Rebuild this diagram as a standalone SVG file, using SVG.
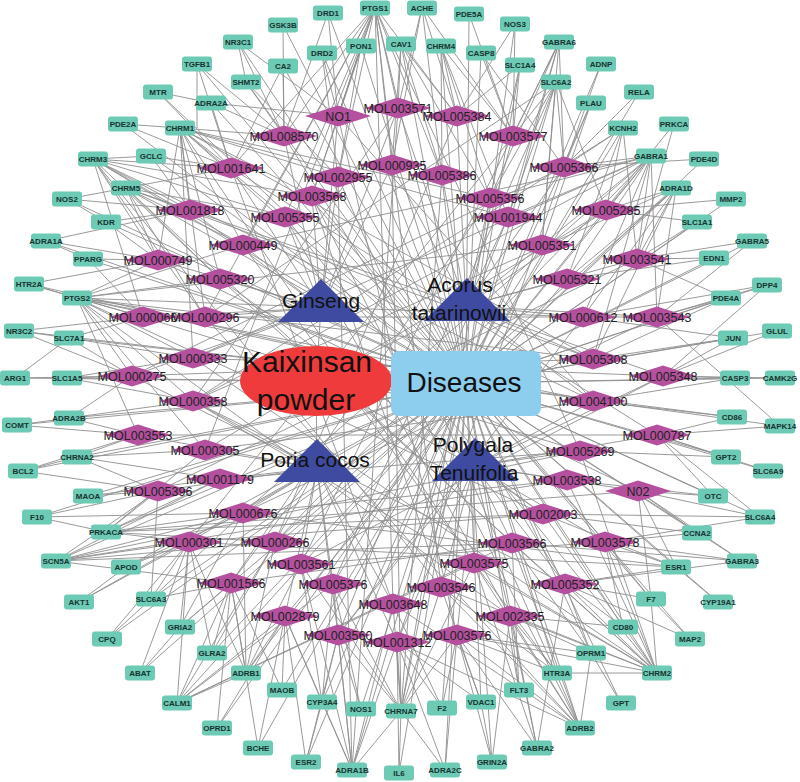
<svg xmlns="http://www.w3.org/2000/svg" xmlns:xlink="http://www.w3.org/1999/xlink" width="800" height="782" viewBox="0 0 800 782">
<style>
#edges line{stroke:#8e8e8e;stroke-width:0.9}
.t use{fill:#6DCAB4}
.t text{font:bold 8px "Liberation Sans",Arial,sans-serif;fill:#173330;text-anchor:middle}
.m use{fill:#B5509F}
.m text{font:12.5px "Liberation Sans",Arial,sans-serif;fill:#222;text-anchor:middle}
.h polygon{fill:#3E4BA0}
.h text{font:21px "Liberation Sans",Arial,sans-serif;fill:#111;text-anchor:middle}
.c text{font:30px "Liberation Sans",Arial,sans-serif;fill:#111;text-anchor:middle}
</style>
<defs>
<rect id="tb" x="-15" y="-7.5" width="30" height="15" rx="3"/>
<polygon id="dm" points="-33,0 0,-10.5 33,0 0,10.5"/>
</defs>
<rect width="800" height="782" fill="#fff"/>
<g id="edges">
<line x1="238" y1="42" x2="466" y2="383"/><line x1="197" y1="64" x2="466" y2="383"/><line x1="246" y1="82" x2="466" y2="383"/><line x1="158" y1="92" x2="466" y2="383"/><line x1="211" y1="103" x2="466" y2="383"/><line x1="123" y1="124" x2="466" y2="383"/><line x1="180" y1="128" x2="466" y2="383"/><line x1="151" y1="156" x2="466" y2="383"/><line x1="93" y1="159" x2="466" y2="383"/><line x1="126" y1="188" x2="466" y2="383"/><line x1="67" y1="199" x2="466" y2="383"/><line x1="106" y1="222" x2="466" y2="383"/><line x1="46" y1="241" x2="466" y2="383"/><line x1="88" y1="259" x2="466" y2="383"/><line x1="29" y1="284" x2="466" y2="383"/><line x1="77" y1="298" x2="466" y2="383"/><line x1="19" y1="331" x2="466" y2="383"/><line x1="69" y1="338" x2="466" y2="383"/><line x1="15" y1="378" x2="466" y2="383"/><line x1="67" y1="378" x2="466" y2="383"/><line x1="17" y1="425" x2="466" y2="383"/><line x1="69" y1="418" x2="466" y2="383"/><line x1="23" y1="471" x2="466" y2="383"/><line x1="77" y1="457" x2="466" y2="383"/><line x1="88" y1="496" x2="466" y2="383"/><line x1="37" y1="517" x2="466" y2="383"/><line x1="106" y1="532" x2="466" y2="383"/><line x1="56" y1="561" x2="466" y2="383"/><line x1="126" y1="567" x2="466" y2="383"/><line x1="79" y1="602" x2="466" y2="383"/><line x1="151" y1="599" x2="466" y2="383"/><line x1="107" y1="639" x2="466" y2="383"/><line x1="180" y1="627" x2="466" y2="383"/><line x1="212" y1="653" x2="466" y2="383"/><line x1="140" y1="673" x2="466" y2="383"/><line x1="246" y1="673" x2="466" y2="383"/><line x1="177" y1="703" x2="466" y2="383"/><line x1="217" y1="728" x2="466" y2="383"/><line x1="258" y1="748" x2="466" y2="383"/><line x1="282" y1="690" x2="466" y2="383"/><line x1="322" y1="702" x2="466" y2="383"/><line x1="306" y1="762" x2="466" y2="383"/><line x1="361" y1="709" x2="466" y2="383"/><line x1="352" y1="770" x2="466" y2="383"/><line x1="401" y1="711" x2="466" y2="383"/><line x1="399" y1="773" x2="466" y2="383"/><line x1="442" y1="708" x2="466" y2="383"/><line x1="445" y1="770" x2="466" y2="383"/><line x1="481" y1="702" x2="466" y2="383"/><line x1="492" y1="762" x2="466" y2="383"/><line x1="519" y1="690" x2="466" y2="383"/><line x1="537" y1="748" x2="466" y2="383"/><line x1="557" y1="673" x2="466" y2="383"/><line x1="580" y1="728" x2="466" y2="383"/><line x1="591" y1="653" x2="466" y2="383"/><line x1="621" y1="703" x2="466" y2="383"/><line x1="623" y1="627" x2="466" y2="383"/><line x1="657" y1="673" x2="466" y2="383"/><line x1="651" y1="599" x2="466" y2="383"/><line x1="690" y1="639" x2="466" y2="383"/><line x1="676" y1="567" x2="466" y2="383"/><line x1="718" y1="602" x2="466" y2="383"/><line x1="697" y1="533" x2="466" y2="383"/><line x1="742" y1="561" x2="466" y2="383"/><line x1="760" y1="517" x2="466" y2="383"/><line x1="713" y1="496" x2="466" y2="383"/><line x1="726" y1="457" x2="466" y2="383"/><line x1="768" y1="471" x2="466" y2="383"/><line x1="732" y1="417" x2="466" y2="383"/><line x1="780" y1="426" x2="466" y2="383"/><line x1="735" y1="378" x2="466" y2="383"/><line x1="780" y1="378" x2="466" y2="383"/><line x1="733" y1="338" x2="466" y2="383"/><line x1="777" y1="331" x2="466" y2="383"/><line x1="726" y1="298" x2="466" y2="383"/><line x1="767" y1="285" x2="466" y2="383"/><line x1="714" y1="258" x2="466" y2="383"/><line x1="752" y1="241" x2="466" y2="383"/><line x1="697" y1="222" x2="466" y2="383"/><line x1="731" y1="199" x2="466" y2="383"/><line x1="676" y1="188" x2="466" y2="383"/><line x1="704" y1="159" x2="466" y2="383"/><line x1="651" y1="156" x2="466" y2="383"/><line x1="674" y1="124" x2="466" y2="383"/><line x1="623" y1="128" x2="466" y2="383"/><line x1="639" y1="92" x2="466" y2="383"/><line x1="591" y1="103" x2="466" y2="383"/><line x1="601" y1="64" x2="466" y2="383"/><line x1="556" y1="82" x2="466" y2="383"/><line x1="559" y1="42" x2="466" y2="383"/><line x1="520" y1="65" x2="466" y2="383"/><line x1="481" y1="53" x2="466" y2="383"/><line x1="515" y1="24" x2="466" y2="383"/><line x1="469" y1="14" x2="466" y2="383"/><line x1="441" y1="46" x2="466" y2="383"/><line x1="422" y1="7" x2="466" y2="383"/><line x1="401" y1="44" x2="466" y2="383"/><line x1="375" y1="7" x2="466" y2="383"/><line x1="361" y1="46" x2="466" y2="383"/><line x1="328" y1="13" x2="466" y2="383"/><line x1="322" y1="53" x2="466" y2="383"/><line x1="283" y1="25" x2="466" y2="383"/><line x1="283" y1="66" x2="466" y2="383"/>
<line x1="338" y1="116" x2="321" y2="308"/><line x1="284" y1="136" x2="321" y2="308"/><line x1="231" y1="168" x2="321" y2="308"/><line x1="338" y1="177" x2="321" y2="308"/><line x1="312" y1="196" x2="321" y2="308"/><line x1="190" y1="210" x2="321" y2="308"/><line x1="285" y1="217" x2="321" y2="308"/><line x1="243" y1="245" x2="321" y2="308"/><line x1="158" y1="260" x2="321" y2="308"/><line x1="220" y1="279" x2="321" y2="308"/><line x1="143" y1="317" x2="321" y2="308"/><line x1="205" y1="317" x2="321" y2="308"/><line x1="193" y1="358" x2="321" y2="308"/><line x1="398" y1="108" x2="321" y2="308"/><line x1="392" y1="165" x2="321" y2="308"/><line x1="132" y1="376" x2="321" y2="308"/>
<line x1="398" y1="108" x2="466" y2="306"/><line x1="457" y1="116" x2="466" y2="306"/><line x1="513" y1="136" x2="466" y2="306"/><line x1="392" y1="165" x2="466" y2="306"/><line x1="442" y1="175" x2="466" y2="306"/><line x1="564" y1="167" x2="466" y2="306"/><line x1="490" y1="198" x2="466" y2="306"/><line x1="606" y1="210" x2="466" y2="306"/><line x1="508" y1="217" x2="466" y2="306"/><line x1="542" y1="245" x2="466" y2="306"/><line x1="637" y1="259" x2="466" y2="306"/><line x1="567" y1="279" x2="466" y2="306"/><line x1="583" y1="317" x2="466" y2="306"/><line x1="657" y1="317" x2="466" y2="306"/><line x1="593" y1="359" x2="466" y2="306"/><line x1="593" y1="401" x2="466" y2="306"/>
<line x1="132" y1="376" x2="317" y2="468"/><line x1="193" y1="401" x2="317" y2="468"/><line x1="138" y1="435" x2="317" y2="468"/><line x1="205" y1="450" x2="317" y2="468"/><line x1="220" y1="479" x2="317" y2="468"/><line x1="158" y1="491" x2="317" y2="468"/><line x1="243" y1="513" x2="317" y2="468"/><line x1="189" y1="542" x2="317" y2="468"/><line x1="275" y1="542" x2="317" y2="468"/><line x1="301" y1="564" x2="317" y2="468"/><line x1="231" y1="583" x2="317" y2="468"/><line x1="333" y1="584" x2="317" y2="468"/><line x1="393" y1="604" x2="317" y2="468"/><line x1="285" y1="616" x2="317" y2="468"/><line x1="338" y1="635" x2="317" y2="468"/><line x1="397" y1="642" x2="317" y2="468"/>
<line x1="663" y1="376" x2="474" y2="466"/><line x1="657" y1="435" x2="474" y2="466"/><line x1="580" y1="451" x2="474" y2="466"/><line x1="567" y1="480" x2="474" y2="466"/><line x1="638" y1="491" x2="474" y2="466"/><line x1="338" y1="635" x2="474" y2="466"/><line x1="397" y1="642" x2="474" y2="466"/><line x1="457" y1="635" x2="474" y2="466"/><line x1="510" y1="616" x2="474" y2="466"/><line x1="441" y1="587" x2="474" y2="466"/><line x1="474" y1="563" x2="474" y2="466"/><line x1="565" y1="584" x2="474" y2="466"/><line x1="512" y1="543" x2="474" y2="466"/><line x1="605" y1="542" x2="474" y2="466"/><line x1="543" y1="514" x2="474" y2="466"/><line x1="593" y1="401" x2="474" y2="466"/>
<line x1="321" y1="308" x2="316" y2="380"/><line x1="466" y1="306" x2="316" y2="380"/><line x1="317" y1="468" x2="316" y2="380"/><line x1="474" y1="466" x2="316" y2="380"/>
<line x1="375" y1="7" x2="338" y2="116"/><line x1="375" y1="7" x2="398" y2="108"/><line x1="375" y1="7" x2="457" y2="116"/><line x1="375" y1="7" x2="284" y2="136"/><line x1="375" y1="7" x2="392" y2="165"/><line x1="375" y1="7" x2="338" y2="177"/><line x1="375" y1="7" x2="312" y2="196"/><line x1="375" y1="7" x2="442" y2="175"/><line x1="375" y1="7" x2="231" y2="168"/><line x1="375" y1="7" x2="285" y2="217"/><line x1="375" y1="7" x2="205" y2="317"/><line x1="375" y1="7" x2="243" y2="245"/><line x1="375" y1="7" x2="393" y2="604"/><line x1="375" y1="7" x2="441" y2="587"/><line x1="375" y1="7" x2="580" y2="451"/><line x1="375" y1="7" x2="205" y2="450"/>
<line x1="422" y1="7" x2="398" y2="108"/><line x1="422" y1="7" x2="457" y2="116"/><line x1="422" y1="7" x2="392" y2="165"/><line x1="422" y1="7" x2="513" y2="136"/>
<line x1="328" y1="13" x2="284" y2="136"/><line x1="328" y1="13" x2="338" y2="116"/><line x1="283" y1="25" x2="284" y2="136"/><line x1="283" y1="66" x2="231" y2="168"/><line x1="283" y1="66" x2="284" y2="136"/>
<line x1="322" y1="53" x2="338" y2="116"/><line x1="322" y1="53" x2="338" y2="177"/><line x1="361" y1="46" x2="338" y2="116"/><line x1="361" y1="46" x2="338" y2="177"/><line x1="361" y1="46" x2="312" y2="196"/>
<line x1="401" y1="44" x2="398" y2="108"/><line x1="401" y1="44" x2="392" y2="165"/><line x1="401" y1="44" x2="457" y2="116"/><line x1="401" y1="44" x2="442" y2="175"/><line x1="401" y1="44" x2="490" y2="198"/>
<line x1="441" y1="46" x2="457" y2="116"/><line x1="441" y1="46" x2="513" y2="136"/><line x1="441" y1="46" x2="442" y2="175"/><line x1="441" y1="46" x2="490" y2="198"/><line x1="441" y1="46" x2="508" y2="217"/>
<line x1="469" y1="14" x2="513" y2="136"/><line x1="481" y1="53" x2="513" y2="136"/><line x1="481" y1="53" x2="564" y2="167"/><line x1="515" y1="24" x2="513" y2="136"/><line x1="515" y1="24" x2="457" y2="116"/>
<line x1="520" y1="65" x2="513" y2="136"/><line x1="520" y1="65" x2="457" y2="116"/><line x1="520" y1="65" x2="490" y2="198"/>
<line x1="559" y1="42" x2="513" y2="136"/><line x1="559" y1="42" x2="564" y2="167"/><line x1="559" y1="42" x2="490" y2="198"/><line x1="559" y1="42" x2="508" y2="217"/><line x1="559" y1="42" x2="542" y2="245"/><line x1="559" y1="42" x2="301" y2="564"/>
<line x1="556" y1="82" x2="513" y2="136"/><line x1="556" y1="82" x2="564" y2="167"/><line x1="556" y1="82" x2="490" y2="198"/><line x1="556" y1="82" x2="508" y2="217"/><line x1="556" y1="82" x2="542" y2="245"/><line x1="556" y1="82" x2="606" y2="210"/><line x1="556" y1="82" x2="205" y2="317"/><line x1="556" y1="82" x2="333" y2="584"/>
<line x1="601" y1="64" x2="564" y2="167"/><line x1="591" y1="103" x2="564" y2="167"/><line x1="591" y1="103" x2="542" y2="245"/><line x1="639" y1="92" x2="564" y2="167"/>
<line x1="623" y1="128" x2="564" y2="167"/><line x1="623" y1="128" x2="606" y2="210"/><line x1="623" y1="128" x2="637" y2="259"/><line x1="623" y1="128" x2="567" y2="279"/><line x1="623" y1="128" x2="193" y2="401"/>
<line x1="674" y1="124" x2="637" y2="259"/>
<line x1="651" y1="156" x2="564" y2="167"/><line x1="651" y1="156" x2="606" y2="210"/><line x1="651" y1="156" x2="508" y2="217"/><line x1="651" y1="156" x2="542" y2="245"/><line x1="651" y1="156" x2="637" y2="259"/><line x1="651" y1="156" x2="567" y2="279"/><line x1="651" y1="156" x2="583" y2="317"/><line x1="651" y1="156" x2="657" y2="317"/><line x1="651" y1="156" x2="593" y2="359"/><line x1="651" y1="156" x2="490" y2="198"/><line x1="651" y1="156" x2="193" y2="358"/><line x1="651" y1="156" x2="193" y2="401"/><line x1="651" y1="156" x2="275" y2="542"/><line x1="651" y1="156" x2="243" y2="513"/><line x1="651" y1="156" x2="243" y2="245"/>
<line x1="704" y1="159" x2="564" y2="167"/>
<line x1="676" y1="188" x2="606" y2="210"/><line x1="676" y1="188" x2="637" y2="259"/><line x1="676" y1="188" x2="583" y2="317"/><line x1="676" y1="188" x2="657" y2="317"/><line x1="676" y1="188" x2="567" y2="279"/><line x1="676" y1="188" x2="593" y2="359"/><line x1="676" y1="188" x2="193" y2="401"/><line x1="676" y1="188" x2="275" y2="542"/>
<line x1="731" y1="199" x2="606" y2="210"/><line x1="697" y1="222" x2="637" y2="259"/><line x1="697" y1="222" x2="606" y2="210"/><line x1="752" y1="241" x2="637" y2="259"/><line x1="752" y1="241" x2="657" y2="317"/><line x1="714" y1="258" x2="637" y2="259"/><line x1="714" y1="258" x2="567" y2="279"/>
<line x1="767" y1="285" x2="657" y2="317"/><line x1="767" y1="285" x2="583" y2="317"/><line x1="767" y1="285" x2="663" y2="376"/><line x1="726" y1="298" x2="657" y2="317"/><line x1="726" y1="298" x2="593" y2="359"/><line x1="726" y1="298" x2="637" y2="259"/>
<line x1="777" y1="331" x2="663" y2="376"/><line x1="733" y1="338" x2="583" y2="317"/><line x1="733" y1="338" x2="593" y2="359"/><line x1="733" y1="338" x2="663" y2="376"/>
<line x1="735" y1="378" x2="663" y2="376"/><line x1="735" y1="378" x2="593" y2="401"/><line x1="780" y1="378" x2="663" y2="376"/>
<line x1="732" y1="417" x2="593" y2="401"/><line x1="732" y1="417" x2="657" y2="435"/><line x1="780" y1="426" x2="657" y2="435"/><line x1="780" y1="426" x2="657" y2="317"/>
<line x1="726" y1="457" x2="657" y2="435"/><line x1="726" y1="457" x2="580" y2="451"/><line x1="768" y1="471" x2="657" y2="435"/>
<line x1="713" y1="496" x2="657" y2="435"/><line x1="713" y1="496" x2="638" y2="491"/><line x1="713" y1="496" x2="567" y2="480"/>
<line x1="760" y1="517" x2="638" y2="491"/><line x1="760" y1="517" x2="657" y2="435"/><line x1="760" y1="517" x2="605" y2="542"/><line x1="760" y1="517" x2="543" y2="514"/>
<line x1="697" y1="533" x2="605" y2="542"/><line x1="697" y1="533" x2="638" y2="491"/><line x1="697" y1="533" x2="543" y2="514"/>
<line x1="742" y1="561" x2="605" y2="542"/><line x1="742" y1="561" x2="638" y2="491"/><line x1="742" y1="561" x2="512" y2="543"/><line x1="742" y1="561" x2="565" y2="584"/>
<line x1="676" y1="567" x2="605" y2="542"/><line x1="676" y1="567" x2="638" y2="491"/><line x1="676" y1="567" x2="543" y2="514"/><line x1="676" y1="567" x2="565" y2="584"/><line x1="676" y1="567" x2="189" y2="542"/><line x1="676" y1="567" x2="243" y2="513"/>
<line x1="718" y1="602" x2="676" y2="567"/>
<line x1="651" y1="599" x2="605" y2="542"/><line x1="651" y1="599" x2="565" y2="584"/><line x1="651" y1="599" x2="638" y2="491"/><line x1="690" y1="639" x2="565" y2="584"/><line x1="690" y1="639" x2="651" y2="599"/>
<line x1="623" y1="627" x2="565" y2="584"/><line x1="623" y1="627" x2="510" y2="616"/><line x1="623" y1="627" x2="605" y2="542"/>
<line x1="657" y1="673" x2="565" y2="584"/><line x1="657" y1="673" x2="510" y2="616"/><line x1="657" y1="673" x2="512" y2="543"/><line x1="657" y1="673" x2="474" y2="563"/><line x1="657" y1="673" x2="605" y2="542"/><line x1="657" y1="673" x2="543" y2="514"/><line x1="657" y1="673" x2="441" y2="587"/><line x1="657" y1="673" x2="567" y2="480"/><line x1="657" y1="673" x2="580" y2="451"/><line x1="657" y1="673" x2="457" y2="635"/><line x1="657" y1="673" x2="220" y2="279"/><line x1="657" y1="673" x2="193" y2="401"/><line x1="657" y1="673" x2="285" y2="217"/><line x1="657" y1="673" x2="193" y2="358"/><line x1="657" y1="673" x2="651" y2="599"/>
<line x1="591" y1="653" x2="565" y2="584"/><line x1="591" y1="653" x2="510" y2="616"/><line x1="591" y1="653" x2="457" y2="635"/><line x1="591" y1="653" x2="512" y2="543"/><line x1="621" y1="703" x2="591" y2="653"/>
<line x1="557" y1="673" x2="510" y2="616"/><line x1="557" y1="673" x2="457" y2="635"/><line x1="557" y1="673" x2="441" y2="587"/><line x1="557" y1="673" x2="474" y2="563"/><line x1="557" y1="673" x2="657" y2="673"/>
<line x1="580" y1="728" x2="510" y2="616"/><line x1="580" y1="728" x2="457" y2="635"/><line x1="580" y1="728" x2="441" y2="587"/><line x1="580" y1="728" x2="474" y2="563"/><line x1="580" y1="728" x2="512" y2="543"/><line x1="580" y1="728" x2="397" y2="642"/><line x1="580" y1="728" x2="393" y2="604"/><line x1="580" y1="728" x2="312" y2="196"/><line x1="580" y1="728" x2="205" y2="317"/><line x1="580" y1="728" x2="338" y2="177"/><line x1="580" y1="728" x2="591" y2="653"/>
<line x1="537" y1="748" x2="510" y2="616"/><line x1="537" y1="748" x2="457" y2="635"/><line x1="537" y1="748" x2="474" y2="563"/><line x1="537" y1="748" x2="565" y2="584"/>
<line x1="519" y1="690" x2="510" y2="616"/><line x1="519" y1="690" x2="512" y2="543"/><line x1="492" y1="762" x2="457" y2="635"/><line x1="492" y1="762" x2="510" y2="616"/><line x1="492" y1="762" x2="481" y2="702"/>
<line x1="481" y1="702" x2="457" y2="635"/><line x1="481" y1="702" x2="441" y2="587"/><line x1="481" y1="702" x2="397" y2="642"/>
<line x1="445" y1="770" x2="457" y2="635"/><line x1="445" y1="770" x2="397" y2="642"/><line x1="445" y1="770" x2="401" y2="711"/>
<line x1="442" y1="708" x2="457" y2="635"/><line x1="442" y1="708" x2="397" y2="642"/><line x1="442" y1="708" x2="393" y2="604"/><line x1="399" y1="773" x2="397" y2="642"/><line x1="399" y1="773" x2="401" y2="711"/>
<line x1="401" y1="711" x2="397" y2="642"/><line x1="401" y1="711" x2="393" y2="604"/><line x1="401" y1="711" x2="338" y2="635"/><line x1="401" y1="711" x2="457" y2="635"/><line x1="401" y1="711" x2="333" y2="584"/><line x1="401" y1="711" x2="441" y2="587"/><line x1="401" y1="711" x2="474" y2="563"/><line x1="401" y1="711" x2="301" y2="564"/><line x1="401" y1="711" x2="392" y2="165"/><line x1="401" y1="711" x2="442" y2="175"/><line x1="401" y1="711" x2="490" y2="198"/>
<line x1="352" y1="770" x2="338" y2="635"/><line x1="352" y1="770" x2="397" y2="642"/><line x1="352" y1="770" x2="333" y2="584"/><line x1="352" y1="770" x2="285" y2="616"/><line x1="352" y1="770" x2="301" y2="564"/><line x1="352" y1="770" x2="393" y2="604"/><line x1="352" y1="770" x2="338" y2="177"/><line x1="352" y1="770" x2="398" y2="108"/><line x1="352" y1="770" x2="322" y2="702"/><line x1="352" y1="770" x2="401" y2="711"/>
<line x1="361" y1="709" x2="338" y2="635"/><line x1="361" y1="709" x2="333" y2="584"/><line x1="306" y1="762" x2="285" y2="616"/><line x1="306" y1="762" x2="338" y2="635"/><line x1="306" y1="762" x2="322" y2="702"/>
<line x1="322" y1="702" x2="285" y2="616"/><line x1="322" y1="702" x2="338" y2="635"/><line x1="322" y1="702" x2="333" y2="584"/><line x1="322" y1="702" x2="301" y2="564"/>
<line x1="282" y1="690" x2="285" y2="616"/><line x1="282" y1="690" x2="231" y2="583"/><line x1="258" y1="748" x2="285" y2="616"/><line x1="258" y1="748" x2="231" y2="583"/><line x1="217" y1="728" x2="231" y2="583"/><line x1="217" y1="728" x2="285" y2="616"/>
<line x1="177" y1="703" x2="231" y2="583"/><line x1="177" y1="703" x2="189" y2="542"/><line x1="177" y1="703" x2="285" y2="616"/><line x1="177" y1="703" x2="275" y2="542"/><line x1="177" y1="703" x2="333" y2="584"/><line x1="177" y1="703" x2="512" y2="543"/><line x1="177" y1="703" x2="474" y2="563"/><line x1="177" y1="703" x2="246" y2="673"/>
<line x1="246" y1="673" x2="231" y2="583"/><line x1="246" y1="673" x2="189" y2="542"/><line x1="246" y1="673" x2="285" y2="616"/><line x1="246" y1="673" x2="275" y2="542"/><line x1="246" y1="673" x2="243" y2="513"/><line x1="246" y1="673" x2="301" y2="564"/>
<line x1="212" y1="653" x2="231" y2="583"/><line x1="212" y1="653" x2="189" y2="542"/><line x1="212" y1="653" x2="275" y2="542"/><line x1="140" y1="673" x2="189" y2="542"/><line x1="140" y1="673" x2="180" y2="627"/>
<line x1="180" y1="627" x2="189" y2="542"/><line x1="180" y1="627" x2="231" y2="583"/><line x1="180" y1="627" x2="243" y2="513"/><line x1="107" y1="639" x2="189" y2="542"/><line x1="107" y1="639" x2="151" y2="599"/>
<line x1="151" y1="599" x2="189" y2="542"/><line x1="151" y1="599" x2="243" y2="513"/><line x1="151" y1="599" x2="231" y2="583"/><line x1="151" y1="599" x2="158" y2="491"/><line x1="79" y1="602" x2="189" y2="542"/><line x1="79" y1="602" x2="126" y2="567"/>
<line x1="126" y1="567" x2="189" y2="542"/><line x1="126" y1="567" x2="243" y2="513"/>
<line x1="56" y1="561" x2="189" y2="542"/><line x1="56" y1="561" x2="243" y2="513"/><line x1="56" y1="561" x2="158" y2="491"/><line x1="56" y1="561" x2="231" y2="583"/><line x1="56" y1="561" x2="220" y2="479"/><line x1="56" y1="561" x2="275" y2="542"/><line x1="56" y1="561" x2="567" y2="480"/><line x1="56" y1="561" x2="580" y2="451"/><line x1="56" y1="561" x2="512" y2="543"/>
<line x1="106" y1="532" x2="243" y2="513"/><line x1="106" y1="532" x2="158" y2="491"/><line x1="106" y1="532" x2="189" y2="542"/><line x1="106" y1="532" x2="220" y2="479"/><line x1="106" y1="532" x2="275" y2="542"/><line x1="106" y1="532" x2="205" y2="450"/><line x1="106" y1="532" x2="638" y2="491"/><line x1="106" y1="532" x2="543" y2="514"/>
<line x1="37" y1="517" x2="158" y2="491"/><line x1="37" y1="517" x2="243" y2="513"/><line x1="37" y1="517" x2="106" y2="532"/><line x1="88" y1="496" x2="158" y2="491"/><line x1="88" y1="496" x2="220" y2="479"/>
<line x1="23" y1="471" x2="138" y2="435"/><line x1="23" y1="471" x2="158" y2="491"/><line x1="23" y1="471" x2="77" y2="457"/>
<line x1="77" y1="457" x2="138" y2="435"/><line x1="77" y1="457" x2="205" y2="450"/><line x1="77" y1="457" x2="158" y2="491"/><line x1="77" y1="457" x2="220" y2="479"/>
<line x1="17" y1="425" x2="138" y2="435"/><line x1="17" y1="425" x2="69" y2="418"/><line x1="69" y1="418" x2="138" y2="435"/><line x1="69" y1="418" x2="193" y2="401"/><line x1="69" y1="418" x2="132" y2="376"/>
<line x1="67" y1="378" x2="132" y2="376"/><line x1="67" y1="378" x2="193" y2="358"/><line x1="67" y1="378" x2="193" y2="401"/><line x1="15" y1="378" x2="132" y2="376"/><line x1="15" y1="378" x2="69" y2="338"/>
<line x1="69" y1="338" x2="132" y2="376"/><line x1="69" y1="338" x2="143" y2="317"/><line x1="69" y1="338" x2="193" y2="358"/><line x1="19" y1="331" x2="143" y2="317"/><line x1="19" y1="331" x2="132" y2="376"/><line x1="19" y1="331" x2="69" y2="338"/>
<line x1="77" y1="298" x2="143" y2="317"/><line x1="77" y1="298" x2="205" y2="317"/><line x1="77" y1="298" x2="132" y2="376"/><line x1="77" y1="298" x2="158" y2="260"/><line x1="77" y1="298" x2="220" y2="279"/><line x1="77" y1="298" x2="193" y2="358"/><line x1="77" y1="298" x2="193" y2="401"/><line x1="77" y1="298" x2="138" y2="435"/><line x1="77" y1="298" x2="243" y2="245"/><line x1="77" y1="298" x2="205" y2="450"/><line x1="77" y1="298" x2="583" y2="317"/><line x1="77" y1="298" x2="593" y2="359"/><line x1="77" y1="298" x2="593" y2="401"/><line x1="77" y1="298" x2="542" y2="245"/><line x1="77" y1="298" x2="543" y2="514"/><line x1="77" y1="298" x2="510" y2="616"/><line x1="77" y1="298" x2="29" y2="284"/>
<line x1="29" y1="284" x2="143" y2="317"/><line x1="29" y1="284" x2="158" y2="260"/><line x1="88" y1="259" x2="158" y2="260"/><line x1="88" y1="259" x2="143" y2="317"/><line x1="46" y1="241" x2="158" y2="260"/><line x1="46" y1="241" x2="190" y2="210"/><line x1="46" y1="241" x2="88" y2="259"/>
<line x1="106" y1="222" x2="190" y2="210"/><line x1="106" y1="222" x2="158" y2="260"/><line x1="67" y1="199" x2="190" y2="210"/><line x1="67" y1="199" x2="126" y2="188"/><line x1="67" y1="199" x2="106" y2="222"/>
<line x1="126" y1="188" x2="190" y2="210"/><line x1="126" y1="188" x2="231" y2="168"/><line x1="126" y1="188" x2="243" y2="245"/><line x1="126" y1="188" x2="158" y2="260"/><line x1="126" y1="188" x2="220" y2="279"/><line x1="126" y1="188" x2="285" y2="217"/><line x1="126" y1="188" x2="205" y2="317"/><line x1="126" y1="188" x2="593" y2="359"/><line x1="126" y1="188" x2="512" y2="543"/>
<line x1="93" y1="159" x2="231" y2="168"/><line x1="93" y1="159" x2="190" y2="210"/><line x1="93" y1="159" x2="243" y2="245"/><line x1="93" y1="159" x2="158" y2="260"/><line x1="93" y1="159" x2="220" y2="279"/><line x1="93" y1="159" x2="285" y2="217"/><line x1="93" y1="159" x2="312" y2="196"/><line x1="93" y1="159" x2="205" y2="317"/><line x1="93" y1="159" x2="143" y2="317"/><line x1="93" y1="159" x2="593" y2="401"/><line x1="93" y1="159" x2="441" y2="587"/><line x1="93" y1="159" x2="151" y2="156"/>
<line x1="151" y1="156" x2="231" y2="168"/><line x1="151" y1="156" x2="190" y2="210"/><line x1="123" y1="124" x2="231" y2="168"/><line x1="123" y1="124" x2="180" y2="128"/>
<line x1="180" y1="128" x2="231" y2="168"/><line x1="180" y1="128" x2="190" y2="210"/><line x1="180" y1="128" x2="284" y2="136"/><line x1="180" y1="128" x2="243" y2="245"/><line x1="180" y1="128" x2="285" y2="217"/><line x1="180" y1="128" x2="312" y2="196"/><line x1="180" y1="128" x2="338" y2="177"/><line x1="180" y1="128" x2="158" y2="260"/><line x1="180" y1="128" x2="220" y2="279"/><line x1="180" y1="128" x2="205" y2="317"/><line x1="180" y1="128" x2="193" y2="358"/><line x1="180" y1="128" x2="508" y2="217"/><line x1="180" y1="128" x2="593" y2="359"/><line x1="180" y1="128" x2="474" y2="563"/><line x1="180" y1="128" x2="490" y2="198"/>
<line x1="158" y1="92" x2="231" y2="168"/><line x1="158" y1="92" x2="211" y2="103"/><line x1="211" y1="103" x2="284" y2="136"/><line x1="211" y1="103" x2="231" y2="168"/><line x1="211" y1="103" x2="338" y2="116"/>
<line x1="197" y1="64" x2="231" y2="168"/><line x1="197" y1="64" x2="284" y2="136"/><line x1="197" y1="64" x2="197" y2="128"/><line x1="246" y1="82" x2="284" y2="136"/><line x1="246" y1="82" x2="338" y2="177"/><line x1="238" y1="42" x2="284" y2="136"/><line x1="238" y1="42" x2="338" y2="116"/><line x1="238" y1="42" x2="246" y2="82"/>
<line x1="338" y1="116" x2="593" y2="401"/><line x1="398" y1="108" x2="193" y2="401"/><line x1="457" y1="116" x2="275" y2="542"/><line x1="284" y1="136" x2="565" y2="584"/><line x1="513" y1="136" x2="189" y2="542"/><line x1="231" y1="168" x2="657" y2="435"/><line x1="564" y1="167" x2="132" y2="376"/><line x1="312" y1="196" x2="605" y2="542"/><line x1="490" y1="198" x2="231" y2="583"/><line x1="606" y1="210" x2="205" y2="450"/><line x1="190" y1="210" x2="663" y2="376"/><line x1="637" y1="259" x2="158" y2="491"/><line x1="158" y1="260" x2="638" y2="491"/><line x1="567" y1="279" x2="285" y2="616"/><line x1="583" y1="317" x2="338" y2="635"/><line x1="143" y1="317" x2="657" y2="317"/><line x1="193" y1="358" x2="663" y2="376"/><line x1="132" y1="376" x2="593" y2="359"/><line x1="138" y1="435" x2="657" y2="435"/><line x1="220" y1="479" x2="580" y2="451"/><line x1="243" y1="513" x2="567" y2="480"/><line x1="189" y1="542" x2="543" y2="514"/><line x1="231" y1="583" x2="512" y2="543"/><line x1="301" y1="564" x2="605" y2="542"/><line x1="333" y1="584" x2="542" y2="245"/><line x1="393" y1="604" x2="231" y2="168"/><line x1="441" y1="587" x2="312" y2="196"/><line x1="474" y1="563" x2="243" y2="245"/><line x1="510" y1="616" x2="285" y2="217"/><line x1="457" y1="635" x2="338" y2="116"/><line x1="397" y1="642" x2="564" y2="167"/><line x1="338" y1="635" x2="508" y2="217"/><line x1="565" y1="584" x2="193" y2="401"/><line x1="543" y1="514" x2="220" y2="279"/><line x1="593" y1="401" x2="205" y2="450"/><line x1="657" y1="317" x2="243" y2="513"/><line x1="663" y1="376" x2="301" y2="564"/><line x1="580" y1="451" x2="143" y2="317"/>
</g>
<g id="targets" class="t">
<g id="NR3C1"><use href="#tb" x="238" y="42"/><text x="238" y="44.8">NR3C1</text></g>
<g id="TGFB1"><use href="#tb" x="197" y="64"/><text x="197" y="66.8">TGFB1</text></g>
<g id="SHMT2"><use href="#tb" x="246" y="82"/><text x="246" y="84.8">SHMT2</text></g>
<g id="MTR"><use href="#tb" x="158" y="92"/><text x="158" y="94.8">MTR</text></g>
<g id="ADRA2A"><use href="#tb" x="211" y="103"/><text x="211" y="105.8">ADRA2A</text></g>
<g id="PDE2A"><use href="#tb" x="123" y="124"/><text x="123" y="126.8">PDE2A</text></g>
<g id="CHRM1"><use href="#tb" x="180" y="128"/><text x="180" y="130.8">CHRM1</text></g>
<g id="GCLC"><use href="#tb" x="151" y="156"/><text x="151" y="158.8">GCLC</text></g>
<g id="CHRM3"><use href="#tb" x="93" y="159"/><text x="93" y="161.8">CHRM3</text></g>
<g id="CHRM5"><use href="#tb" x="126" y="188"/><text x="126" y="190.8">CHRM5</text></g>
<g id="NOS2"><use href="#tb" x="67" y="199"/><text x="67" y="201.8">NOS2</text></g>
<g id="KDR"><use href="#tb" x="106" y="222"/><text x="106" y="224.8">KDR</text></g>
<g id="ADRA1A"><use href="#tb" x="46" y="241"/><text x="46" y="243.8">ADRA1A</text></g>
<g id="PPARG"><use href="#tb" x="88" y="259"/><text x="88" y="261.8">PPARG</text></g>
<g id="HTR2A"><use href="#tb" x="29" y="284"/><text x="29" y="286.8">HTR2A</text></g>
<g id="PTGS2"><use href="#tb" x="77" y="298"/><text x="77" y="300.8">PTGS2</text></g>
<g id="NR3C2"><use href="#tb" x="19" y="331"/><text x="19" y="333.8">NR3C2</text></g>
<g id="SLC7A1"><use href="#tb" x="69" y="338"/><text x="69" y="340.8">SLC7A1</text></g>
<g id="ARG1"><use href="#tb" x="15" y="378"/><text x="15" y="380.8">ARG1</text></g>
<g id="SLC1A5"><use href="#tb" x="67" y="378"/><text x="67" y="380.8">SLC1A5</text></g>
<g id="COMT"><use href="#tb" x="17" y="425"/><text x="17" y="427.8">COMT</text></g>
<g id="ADRA2B"><use href="#tb" x="69" y="418"/><text x="69" y="420.8">ADRA2B</text></g>
<g id="BCL2"><use href="#tb" x="23" y="471"/><text x="23" y="473.8">BCL2</text></g>
<g id="CHRNA2"><use href="#tb" x="77" y="457"/><text x="77" y="459.8">CHRNA2</text></g>
<g id="MAOA"><use href="#tb" x="88" y="496"/><text x="88" y="498.8">MAOA</text></g>
<g id="F10"><use href="#tb" x="37" y="517"/><text x="37" y="519.8">F10</text></g>
<g id="PRKACA"><use href="#tb" x="106" y="532"/><text x="106" y="534.8">PRKACA</text></g>
<g id="SCN5A"><use href="#tb" x="56" y="561"/><text x="56" y="563.8">SCN5A</text></g>
<g id="APOD"><use href="#tb" x="126" y="567"/><text x="126" y="569.8">APOD</text></g>
<g id="AKT1"><use href="#tb" x="79" y="602"/><text x="79" y="604.8">AKT1</text></g>
<g id="SLC6A3"><use href="#tb" x="151" y="599"/><text x="151" y="601.8">SLC6A3</text></g>
<g id="CPQ"><use href="#tb" x="107" y="639"/><text x="107" y="641.8">CPQ</text></g>
<g id="GRIA2"><use href="#tb" x="180" y="627"/><text x="180" y="629.8">GRIA2</text></g>
<g id="GLRA2"><use href="#tb" x="212" y="653"/><text x="212" y="655.8">GLRA2</text></g>
<g id="ABAT"><use href="#tb" x="140" y="673"/><text x="140" y="675.8">ABAT</text></g>
<g id="ADRB1"><use href="#tb" x="246" y="673"/><text x="246" y="675.8">ADRB1</text></g>
<g id="CALM1"><use href="#tb" x="177" y="703"/><text x="177" y="705.8">CALM1</text></g>
<g id="OPRD1"><use href="#tb" x="217" y="728"/><text x="217" y="730.8">OPRD1</text></g>
<g id="BCHE"><use href="#tb" x="258" y="748"/><text x="258" y="750.8">BCHE</text></g>
<g id="MAOB"><use href="#tb" x="282" y="690"/><text x="282" y="692.8">MAOB</text></g>
<g id="CYP3A4"><use href="#tb" x="322" y="702"/><text x="322" y="704.8">CYP3A4</text></g>
<g id="ESR2"><use href="#tb" x="306" y="762"/><text x="306" y="764.8">ESR2</text></g>
<g id="NOS1"><use href="#tb" x="361" y="709"/><text x="361" y="711.8">NOS1</text></g>
<g id="ADRA1B"><use href="#tb" x="352" y="770"/><text x="352" y="772.8">ADRA1B</text></g>
<g id="CHRNA7"><use href="#tb" x="401" y="711"/><text x="401" y="713.8">CHRNA7</text></g>
<g id="IL6"><use href="#tb" x="399" y="773"/><text x="399" y="775.8">IL6</text></g>
<g id="F2"><use href="#tb" x="442" y="708"/><text x="442" y="710.8">F2</text></g>
<g id="ADRA2C"><use href="#tb" x="445" y="770"/><text x="445" y="772.8">ADRA2C</text></g>
<g id="VDAC1"><use href="#tb" x="481" y="702"/><text x="481" y="704.8">VDAC1</text></g>
<g id="GRIN2A"><use href="#tb" x="492" y="762"/><text x="492" y="764.8">GRIN2A</text></g>
<g id="FLT3"><use href="#tb" x="519" y="690"/><text x="519" y="692.8">FLT3</text></g>
<g id="GABRA2"><use href="#tb" x="537" y="748"/><text x="537" y="750.8">GABRA2</text></g>
<g id="HTR3A"><use href="#tb" x="557" y="673"/><text x="557" y="675.8">HTR3A</text></g>
<g id="ADRB2"><use href="#tb" x="580" y="728"/><text x="580" y="730.8">ADRB2</text></g>
<g id="OPRM1"><use href="#tb" x="591" y="653"/><text x="591" y="655.8">OPRM1</text></g>
<g id="GPT"><use href="#tb" x="621" y="703"/><text x="621" y="705.8">GPT</text></g>
<g id="CD80"><use href="#tb" x="623" y="627"/><text x="623" y="629.8">CD80</text></g>
<g id="CHRM2"><use href="#tb" x="657" y="673"/><text x="657" y="675.8">CHRM2</text></g>
<g id="F7"><use href="#tb" x="651" y="599"/><text x="651" y="601.8">F7</text></g>
<g id="MAP2"><use href="#tb" x="690" y="639"/><text x="690" y="641.8">MAP2</text></g>
<g id="ESR1"><use href="#tb" x="676" y="567"/><text x="676" y="569.8">ESR1</text></g>
<g id="CYP19A1"><use href="#tb" x="718" y="602"/><text x="718" y="604.8">CYP19A1</text></g>
<g id="CCNA2"><use href="#tb" x="697" y="533"/><text x="697" y="535.8">CCNA2</text></g>
<g id="GABRA3"><use href="#tb" x="742" y="561"/><text x="742" y="563.8">GABRA3</text></g>
<g id="SLC6A4"><use href="#tb" x="760" y="517"/><text x="760" y="519.8">SLC6A4</text></g>
<g id="OTC"><use href="#tb" x="713" y="496"/><text x="713" y="498.8">OTC</text></g>
<g id="GPT2"><use href="#tb" x="726" y="457"/><text x="726" y="459.8">GPT2</text></g>
<g id="SLC6A9"><use href="#tb" x="768" y="471"/><text x="768" y="473.8">SLC6A9</text></g>
<g id="CD86"><use href="#tb" x="732" y="417"/><text x="732" y="419.8">CD86</text></g>
<g id="MAPK14"><use href="#tb" x="780" y="426"/><text x="780" y="428.8">MAPK14</text></g>
<g id="CASP3"><use href="#tb" x="735" y="378"/><text x="735" y="380.8">CASP3</text></g>
<g id="CAMK2G"><use href="#tb" x="780" y="378"/><text x="780" y="380.8">CAMK2G</text></g>
<g id="JUN"><use href="#tb" x="733" y="338"/><text x="733" y="340.8">JUN</text></g>
<g id="GLUL"><use href="#tb" x="777" y="331"/><text x="777" y="333.8">GLUL</text></g>
<g id="PDE4A"><use href="#tb" x="726" y="298"/><text x="726" y="300.8">PDE4A</text></g>
<g id="DPP4"><use href="#tb" x="767" y="285"/><text x="767" y="287.8">DPP4</text></g>
<g id="EDN1"><use href="#tb" x="714" y="258"/><text x="714" y="260.8">EDN1</text></g>
<g id="GABRA5"><use href="#tb" x="752" y="241"/><text x="752" y="243.8">GABRA5</text></g>
<g id="SLC1A1"><use href="#tb" x="697" y="222"/><text x="697" y="224.8">SLC1A1</text></g>
<g id="MMP2"><use href="#tb" x="731" y="199"/><text x="731" y="201.8">MMP2</text></g>
<g id="ADRA1D"><use href="#tb" x="676" y="188"/><text x="676" y="190.8">ADRA1D</text></g>
<g id="PDE4D"><use href="#tb" x="704" y="159"/><text x="704" y="161.8">PDE4D</text></g>
<g id="GABRA1"><use href="#tb" x="651" y="156"/><text x="651" y="158.8">GABRA1</text></g>
<g id="PRKCA"><use href="#tb" x="674" y="124"/><text x="674" y="126.8">PRKCA</text></g>
<g id="KCNH2"><use href="#tb" x="623" y="128"/><text x="623" y="130.8">KCNH2</text></g>
<g id="RELA"><use href="#tb" x="639" y="92"/><text x="639" y="94.8">RELA</text></g>
<g id="PLAU"><use href="#tb" x="591" y="103"/><text x="591" y="105.8">PLAU</text></g>
<g id="ADNP"><use href="#tb" x="601" y="64"/><text x="601" y="66.8">ADNP</text></g>
<g id="SLC6A2"><use href="#tb" x="556" y="82"/><text x="556" y="84.8">SLC6A2</text></g>
<g id="GABRA6"><use href="#tb" x="559" y="42"/><text x="559" y="44.8">GABRA6</text></g>
<g id="SLC1A4"><use href="#tb" x="520" y="65"/><text x="520" y="67.8">SLC1A4</text></g>
<g id="CASP8"><use href="#tb" x="481" y="53"/><text x="481" y="55.8">CASP8</text></g>
<g id="NOS3"><use href="#tb" x="515" y="24"/><text x="515" y="26.8">NOS3</text></g>
<g id="PDE5A"><use href="#tb" x="469" y="14"/><text x="469" y="16.8">PDE5A</text></g>
<g id="CHRM4"><use href="#tb" x="441" y="46"/><text x="441" y="48.8">CHRM4</text></g>
<g id="ACHE"><use href="#tb" x="422" y="8"/><text x="422" y="10.8">ACHE</text></g>
<g id="CAV1"><use href="#tb" x="401" y="44"/><text x="401" y="46.8">CAV1</text></g>
<g id="PTGS1"><use href="#tb" x="375" y="8"/><text x="375" y="10.8">PTGS1</text></g>
<g id="PON1"><use href="#tb" x="361" y="46"/><text x="361" y="48.8">PON1</text></g>
<g id="DRD1"><use href="#tb" x="328" y="13"/><text x="328" y="15.8">DRD1</text></g>
<g id="DRD2"><use href="#tb" x="322" y="53"/><text x="322" y="55.8">DRD2</text></g>
<g id="GSK3B"><use href="#tb" x="283" y="25"/><text x="283" y="27.8">GSK3B</text></g>
<g id="CA2"><use href="#tb" x="283" y="66"/><text x="283" y="68.8">CA2</text></g>
</g>
<g id="compounds" class="m">
<g id="NO1"><use href="#dm" x="338" y="116"/><text x="338" y="120.5">NO1</text></g>
<g id="MOL003571"><use href="#dm" x="398" y="108"/><text x="398" y="112.5">MOL003571</text></g>
<g id="MOL005384"><use href="#dm" x="457" y="116"/><text x="457" y="120.5">MOL005384</text></g>
<g id="MOL008570"><use href="#dm" x="284" y="136"/><text x="284" y="140.5">MOL008570</text></g>
<g id="MOL003577"><use href="#dm" x="513" y="136"/><text x="513" y="140.5">MOL003577</text></g>
<g id="MOL001641"><use href="#dm" x="231" y="168"/><text x="231" y="172.5">MOL001641</text></g>
<g id="MOL000935"><use href="#dm" x="392" y="165"/><text x="392" y="169.5">MOL000935</text></g>
<g id="MOL005386"><use href="#dm" x="442" y="175"/><text x="442" y="179.5">MOL005386</text></g>
<g id="MOL002955"><use href="#dm" x="338" y="177"/><text x="338" y="181.5">MOL002955</text></g>
<g id="MOL005366"><use href="#dm" x="564" y="167"/><text x="564" y="171.5">MOL005366</text></g>
<g id="MOL003568"><use href="#dm" x="312" y="196"/><text x="312" y="200.5">MOL003568</text></g>
<g id="MOL005356"><use href="#dm" x="490" y="198"/><text x="490" y="202.5">MOL005356</text></g>
<g id="MOL001818"><use href="#dm" x="190" y="210"/><text x="190" y="214.5">MOL001818</text></g>
<g id="MOL005285"><use href="#dm" x="606" y="210"/><text x="606" y="214.5">MOL005285</text></g>
<g id="MOL005355"><use href="#dm" x="285" y="217"/><text x="285" y="221.5">MOL005355</text></g>
<g id="MOL001944"><use href="#dm" x="508" y="217"/><text x="508" y="221.5">MOL001944</text></g>
<g id="MOL000449"><use href="#dm" x="243" y="245"/><text x="243" y="249.5">MOL000449</text></g>
<g id="MOL005351"><use href="#dm" x="542" y="245"/><text x="542" y="249.5">MOL005351</text></g>
<g id="MOL000749"><use href="#dm" x="158" y="260"/><text x="158" y="264.5">MOL000749</text></g>
<g id="MOL003541"><use href="#dm" x="637" y="259"/><text x="637" y="263.5">MOL003541</text></g>
<g id="MOL005320"><use href="#dm" x="220" y="279"/><text x="220" y="283.5">MOL005320</text></g>
<g id="MOL005321"><use href="#dm" x="567" y="279"/><text x="567" y="283.5">MOL005321</text></g>
<g id="MOL000066"><use href="#dm" x="143" y="317"/><text x="143" y="321.5">MOL000066</text></g>
<g id="MOL000296"><use href="#dm" x="205" y="317"/><text x="205" y="321.5">MOL000296</text></g>
<g id="MOL000333"><use href="#dm" x="193" y="358"/><text x="193" y="362.5">MOL000333</text></g>
<g id="MOL000275"><use href="#dm" x="132" y="376"/><text x="132" y="380.5">MOL000275</text></g>
<g id="MOL000358"><use href="#dm" x="193" y="401"/><text x="193" y="405.5">MOL000358</text></g>
<g id="MOL003553"><use href="#dm" x="138" y="435"/><text x="138" y="439.5">MOL003553</text></g>
<g id="MOL000305"><use href="#dm" x="205" y="450"/><text x="205" y="454.5">MOL000305</text></g>
<g id="MOL001179"><use href="#dm" x="220" y="479"/><text x="220" y="483.5">MOL001179</text></g>
<g id="MOL005396"><use href="#dm" x="158" y="491"/><text x="158" y="495.5">MOL005396</text></g>
<g id="MOL000612"><use href="#dm" x="583" y="317"/><text x="583" y="321.5">MOL000612</text></g>
<g id="MOL003543"><use href="#dm" x="657" y="317"/><text x="657" y="321.5">MOL003543</text></g>
<g id="MOL005308"><use href="#dm" x="593" y="359"/><text x="593" y="363.5">MOL005308</text></g>
<g id="MOL005348"><use href="#dm" x="663" y="376"/><text x="663" y="380.5">MOL005348</text></g>
<g id="MOL004100"><use href="#dm" x="593" y="401"/><text x="593" y="405.5">MOL004100</text></g>
<g id="MOL000787"><use href="#dm" x="657" y="435"/><text x="657" y="439.5">MOL000787</text></g>
<g id="MOL005269"><use href="#dm" x="580" y="451"/><text x="580" y="455.5">MOL005269</text></g>
<g id="MOL003538"><use href="#dm" x="567" y="480"/><text x="567" y="484.5">MOL003538</text></g>
<g id="N02"><use href="#dm" x="638" y="491"/><text x="638" y="495.5">N02</text></g>
<g id="MOL000676"><use href="#dm" x="243" y="513"/><text x="243" y="517.5">MOL000676</text></g>
<g id="MOL000301"><use href="#dm" x="189" y="542"/><text x="189" y="546.5">MOL000301</text></g>
<g id="MOL000266"><use href="#dm" x="275" y="542"/><text x="275" y="546.5">MOL000266</text></g>
<g id="MOL003561"><use href="#dm" x="301" y="564"/><text x="301" y="568.5">MOL003561</text></g>
<g id="MOL001566"><use href="#dm" x="231" y="583"/><text x="231" y="587.5">MOL001566</text></g>
<g id="MOL005376"><use href="#dm" x="333" y="584"/><text x="333" y="588.5">MOL005376</text></g>
<g id="MOL003648"><use href="#dm" x="393" y="604"/><text x="393" y="608.5">MOL003648</text></g>
<g id="MOL002879"><use href="#dm" x="285" y="616"/><text x="285" y="620.5">MOL002879</text></g>
<g id="MOL003560"><use href="#dm" x="338" y="635"/><text x="338" y="639.5">MOL003560</text></g>
<g id="MOL001312"><use href="#dm" x="397" y="642"/><text x="397" y="646.5">MOL001312</text></g>
<g id="MOL003576"><use href="#dm" x="457" y="635"/><text x="457" y="639.5">MOL003576</text></g>
<g id="MOL002335"><use href="#dm" x="510" y="616"/><text x="510" y="620.5">MOL002335</text></g>
<g id="MOL003546"><use href="#dm" x="441" y="587"/><text x="441" y="591.5">MOL003546</text></g>
<g id="MOL003575"><use href="#dm" x="474" y="563"/><text x="474" y="567.5">MOL003575</text></g>
<g id="MOL005352"><use href="#dm" x="565" y="584"/><text x="565" y="588.5">MOL005352</text></g>
<g id="MOL003566"><use href="#dm" x="512" y="543"/><text x="512" y="547.5">MOL003566</text></g>
<g id="MOL003578"><use href="#dm" x="605" y="542"/><text x="605" y="546.5">MOL003578</text></g>
<g id="MOL002003"><use href="#dm" x="543" y="514"/><text x="543" y="518.5">MOL002003</text></g>
</g>
<g id="herbs" class="h">
<g id="Ginseng"><polygon points="321,279 364,322 278,322"/><text x="321" y="308">Ginseng</text></g>
<g id="Acorus"><polygon points="467,278 510,321 424,321"/><text x="460" y="292">Acorus</text><text x="459" y="320">tatarinowii</text></g>
<g id="Poria"><polygon points="317,439 360,482 274,482"/><text x="315" y="467">Poria cocos</text></g>
<g id="Polygala"><polygon points="475,438 518,481 432,481"/><text x="473" y="452">Polygala</text><text x="474" y="480">Tenuifolia</text></g>
</g>
<g id="Kaixinsan" class="c"><ellipse cx="316" cy="381" rx="76" ry="35" fill="#EF3B3B"/><text x="307" y="372">Kaixinsan</text><text x="306" y="410">powder</text></g>
<g id="Diseases" class="c"><rect x="391" y="351" width="150" height="65" rx="8" fill="#8DCEEF"/><text x="464" y="392" style="font-size:28px">Diseases</text></g>
</svg>
